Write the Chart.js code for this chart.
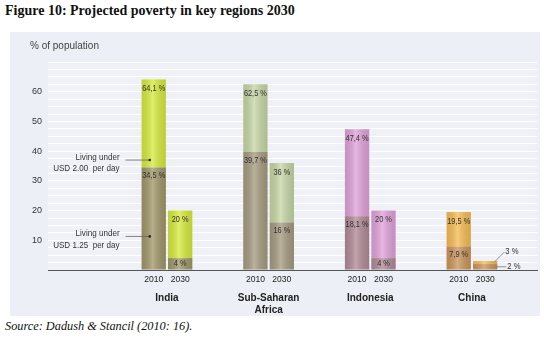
<!DOCTYPE html>
<html>
<head>
<meta charset="utf-8">
<script src="https://cdn.jsdelivr.net/npm/chart.js@4"></script>
<style>
  html, body { margin:0; padding:0; background:#fff; width:544px; height:339px; overflow:hidden; }
  #title  { position:absolute; left:5px; top:3px; font:bold 14px "Liberation Serif", serif; color:#111; white-space:nowrap; }
  #panel  { position:absolute; left:10px; top:32px; width:530px; height:284px; background:#eceff5; }
  #source { position:absolute; left:5px; top:319px; font:italic 12.3px "Liberation Serif", serif; color:#111; white-space:nowrap; }
</style>
</head>
<body>
<div id="title">Figure 10: Projected poverty in key regions 2030</div>
<div id="panel"><canvas id="c" width="530" height="284"></canvas></div>
<div id="source">Source: Dadush &amp; Stancil (2010: 16).</div>
<script>
// ── DATA ─────────────────────────────────────────────────────────
const regions       = ['India', 'Sub-Saharan Africa', 'Indonesia', 'China'];
const years         = ['2010', '2030'];
const under200_2010 = [64.1, 62.5, 47.4, 19.5];   // % living under USD 2.00 / day
const under125_2010 = [34.5, 39.7, 18.1, 7.9];    // % living under USD 1.25 / day
const under200_2030 = [20, 36, 20, 3];
const under125_2030 = [4, 16, 4, 2];
const yLabels       = [10, 20, 30, 40, 50, 60];

const upperCol = ['#d7eb3f', '#c7d7a7', '#e1a3db', '#f6bd56'];
const lowerCol = ['#a1986a', '#a69c81', '#b18b97', '#cc965d'];

const SANS = '"Liberation Sans", Arial, sans-serif';

const pct = v => (Number.isInteger(v) ? String(v) : v.toFixed(1).replace('.', ',')) + ' %';
const pts = arr => arr.map((v, i) => ({ x: i, y: v }));

// condensed text: squeeze horizontally around the anchor
function narrowText(ctx, txt, x, y, sx) {
  ctx.save();
  ctx.translate(x, y);
  ctx.scale(sx, 1);
  ctx.fillText(txt, 0, 0);
  ctx.restore();
}

// ── DECORATION PLUGIN ────────────────────────────────────────────
const deco = {
  id: 'deco',
  beforeDraw(chart) {
    const { ctx, chartArea: a } = chart;
    ctx.save();
    ctx.fillStyle = '#eff1f7';
    ctx.fillRect(a.left, a.top, a.right - a.left, a.bottom - a.top);
    ctx.fillStyle = '#444';
    ctx.font = '10px ' + SANS;
    ctx.textBaseline = 'middle';
    ctx.fillText('% of population', 20, 14);
    ctx.restore();
  },
  afterDatasetsDraw(chart) {
    const { ctx } = chart, y = chart.scales.y;
    const m = [0, 1, 2, 3].map(i => chart.getDatasetMeta(i).data);
    ctx.save();
    // cylinder shading
    m.forEach(els => els.forEach(b => {
      const l = b.x - b.width / 2, r = b.x + b.width / 2, h = b.base - b.y;
      const g = ctx.createLinearGradient(l, 0, r, 0);
      g.addColorStop(0, 'rgba(0,0,0,0.10)');
      g.addColorStop(0.45, 'rgba(255,255,255,0.22)');
      g.addColorStop(1, 'rgba(0,0,0,0.12)');
      ctx.fillStyle = g;
      ctx.fillRect(l, b.y, b.width, h);
    }));

    // value labels
    ctx.font = '9px ' + SANS;
    ctx.textAlign = 'center';
    ctx.textBaseline = 'middle';
    ctx.fillStyle = '#333';
    const lowers = [under125_2010, under125_2030], uppers = [under200_2010, under200_2030];
    [0, 1].forEach(s => {
      const lo = m[s * 2], up = m[s * 2 + 1];
      regions.forEach((r, i) => {
        if (i === 3 && s === 1) return;
        const u = up[i], d = lo[i];
        narrowText(ctx, pct(uppers[s][i]), u.x, u.y + 9, 0.82);
        const segH = d.base - d.y;
        narrowText(ctx, pct(lowers[s][i]), d.x, segH > 18 ? d.y + 8 : (d.y + d.base) / 2, 0.82);
      });
    });

    // China 2030: labels outside with leaders
    const cu = m[3][3], cl = m[2][3], right = cu.x + cu.width / 2;
    ctx.strokeStyle = '#777';
    ctx.lineWidth = 0.8;
    ctx.beginPath();
    ctx.moveTo(right - 3, cu.y + 1); ctx.lineTo(right + 7, cu.y - 9);
    const midLo = (cl.y + cl.base) / 2;
    ctx.moveTo(right - 2, midLo); ctx.lineTo(right + 9, midLo);
    ctx.stroke();
    ctx.textAlign = 'left';
    narrowText(ctx, pct(under200_2030[3]), right + 8, cu.y - 10, 0.85);
    narrowText(ctx, pct(under125_2030[3]), right + 10, midLo, 0.85);

    // year labels under each bar
    ctx.font = '9px ' + SANS;
    ctx.textAlign = 'center';
    ctx.fillStyle = '#222';
    [0, 2].forEach((d, s) => m[d].forEach(b => narrowText(ctx, years[s], b.x, 248, 0.95)));

    // legend annotations on India 2010
    const ib = m[1][0], left = ib.x - ib.width / 2;
    const notes = [['Living under', 'USD 2.00  per day', 37], ['Living under', 'USD 1.25  per day', 11.3]];
    ctx.font = '9.5px ' + SANS;
    notes.forEach(([a, b, v]) => {
      const py = y.getPixelForValue(v);
      ctx.fillStyle = '#333';
      ctx.textAlign = 'right';
      narrowText(ctx, a, left - 22, py - 3, 0.85);
      narrowText(ctx, b, left - 22, py + 8.5, 0.85);
      ctx.strokeStyle = '#666';
      ctx.beginPath(); ctx.moveTo(left - 16, py); ctx.lineTo(ib.x - 4, py); ctx.stroke();
      ctx.fillStyle = '#222';
      ctx.beginPath(); ctx.arc(ib.x - 4, py, 1.3, 0, Math.PI * 2); ctx.fill();
    });
    ctx.restore();
  }
};

// ── CHART ────────────────────────────────────────────────────────
const ds = (data, stack, colors) => ({
  data: pts(data), stack, backgroundColor: colors, borderWidth: 0,
  categoryPercentage: 0.52, barPercentage: 0.92
});

new Chart(document.getElementById('c'), {
  type: 'bar',
  data: {
    datasets: [
      ds(under125_2010, '2010', lowerCol),
      ds(under200_2010.map((v, i) => v - under125_2010[i]), '2010', upperCol),
      ds(under125_2030, '2030', lowerCol),
      ds(under200_2030.map((v, i) => v - under125_2030[i]), '2030', upperCol)
    ]
  },
  options: {
    responsive: false, animation: false,
    layout: { padding: { top: 30, right: 3, bottom: 0, left: 0 } },
    plugins: { legend: { display: false }, tooltip: { enabled: false } },
    scales: {
      x: {
        type: 'linear', stacked: true, offset: false, min: -1.17, max: 3.64,
        afterBuildTicks: s => { s.ticks = regions.map((r, i) => ({ value: i })); },
        afterFit: s => { s.height = 46; },
        ticks: {
          callback: v => regions[v].split(' '),
          font: { family: SANS, size: 10, weight: 'bold' }, color: '#222',
          padding: 14, maxRotation: 0, autoSkip: false
        },
        grid: { display: false, offset: false },
        border: { display: true, color: '#555', width: 1 }
      },
      y: {
        stacked: true, min: 0, max: 70,
        afterFit: s => { s.width = 38; },
        ticks: {
          stepSize: 2.5, autoSkip: false, padding: 6,
          callback: v => yLabels.includes(v) ? v : '',
          font: { family: SANS, size: 9 }, color: '#333'
        },
        grid: { color: '#ffffff', lineWidth: 1, drawTicks: false },
        border: { display: false }
      }
    }
  },
  plugins: [deco]
});
</script>
</body>
</html>
